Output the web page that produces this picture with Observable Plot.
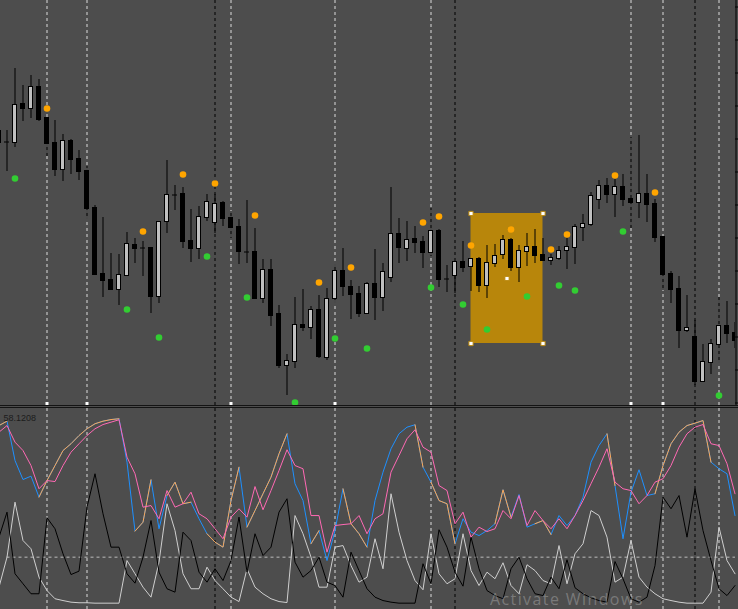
<!DOCTYPE html>
<html><head><meta charset="utf-8">
<script src="https://cdn.jsdelivr.net/npm/d3@7"></script>
<script src="https://cdn.jsdelivr.net/npm/@observablehq/plot@0.6"></script>
<style>
html,body{margin:0;padding:0;background:#4d4d4d;width:738px;height:609px;overflow:hidden;}
#chart{position:relative;width:738px;height:609px;}
#main{border-bottom:1px solid #141414;height:405px;}
#gap{height:1px;}
#lower{border-top:1px solid #141414;}
svg{display:block;}
.wm{position:absolute;left:490px;top:591px;font:16px/16px "Open Sans";letter-spacing:1.4px;color:rgba(255,255,255,0.26);white-space:nowrap;}
</style></head>
<body>
<div id="chart"><div id="main"></div><div id="gap"></div><div id="lower"></div><div class="wm">Activate Windows</div></div>
<script>
// bar index runs from -1 (partly cut at left) to 91
const open  = [290,279,278,317,312,334,303,278,251,280,262,250,213,147,141,131,145,176,173,173,124,199,226,227,180,172,203,198,218,203,194,169,169,122,151,107,55,59,96,93,111,63,122,150,134,127,107,137,123,143,187,172,182,179,168,190,142,145,159,154,162,135,157,166,181,153,169,174,166,160,162,170,173,193,196,221,235,226,234,222,218,227,217,184,147,132,90,84,39,58,76,95,88];
const high  = [292,290,352,335,345,341,303,300,286,281,270,254,215,203,167,166,188,182,179,173,199,260,235,233,211,214,226,226,219,209,201,220,192,161,161,115,66,123,131,114,125,132,156,172,140,134,138,171,157,233,202,199,194,184,212,191,155,159,179,162,163,175,176,185,182,175,187,191,182,166,174,182,196,206,228,240,242,241,246,283,285,246,221,184,149,144,125,100,76,81,123,119,98];
const low   = [275,249,273,299,302,299,264,244,239,246,240,201,145,123,131,115,144,157,144,107,117,187,210,172,158,161,199,187,194,182,156,157,122,117,94,52,25,52,89,81,62,60,117,124,101,103,107,100,109,138,157,159,167,152,164,133,128,127,148,129,128,122,153,161,149,138,154,157,159,155,160,151,156,179,194,211,217,203,214,192,202,198,178,130,117,72,88,35,38,46,57,77,72];
const close = [278,279,316,312,334,301,277,251,280,261,249,212,146,140,131,146,177,172,173,124,199,226,226,179,172,204,219,217,202,193,169,169,122,151,105,55,60,96,93,111,64,122,150,134,126,107,137,123,149,187,173,181,178,168,190,141,142,159,153,162,135,158,165,181,153,170,174,165,160,163,170,174,194,197,225,235,226,234,221,218,227,216,183,146,131,90,93,39,59,77,95,87,80];

// signal dots
const sellK = [5,17,22,26,31,39,43,52,54,58,63,68,70,76,81];
const sellP = [312,189,246,237,205,138,153,198,204,175,191,171,186,245,228];
const buyK  = [1,15,19,25,30,36,41,45,53,57,60,65,69,71,77,89];
const buyP  = [242,111,83,164,123,18,82,72,133,116,91,124,135,130,189,25];

// rectangle object
const zoneK = [58,67];
const zoneP = [77,207];

// vertical separators and markers
const whiteLines = [5,10,28,41,53,78,82,89];
const blackLines = [26,56,86];
const markerK = [5,10,28,41,78,82];
const priceTicks = [414,381,348,315,282,249,216,183,150,117,84,51,18];

// indicator window
const mainLine = [90.8,93.0,73.3,63.8,65.5,55.0,63.3,70.8,78.3,81.7,85.8,89.2,91.7,93.0,93.8,94.2,72.5,38.0,42.5,63.7,39.2,55.8,62.5,51.7,52.5,44.2,36.7,32.5,30.0,53.3,70.0,40.0,48.3,56.7,65.0,76.7,86.7,61.7,53.3,31.7,38.3,23.3,38.3,59.2,41.7,36.7,30.0,53.3,67.5,79.2,86.7,90.0,91.2,70.0,62.5,53.3,51.7,31.7,44.2,37.5,35.8,38.3,41.7,58.7,45.0,56.3,40.0,41.7,43.3,36.3,45.8,40.8,45.8,55.0,72.5,80.8,86.7,60.8,34.2,57.5,68.7,55.8,56.7,70.8,81.7,87.5,90.8,92.0,93.3,72.5,69.2,66.7,45.8];
const signalLine = [87.5,90.8,82.5,78.3,70.8,59.2,63.3,62.8,70.8,77.5,81.7,85.8,89.2,91.3,92.5,93.7,75.0,66.7,50.0,50.8,44.2,58.3,50.0,51.7,57.5,46.7,44.2,39.2,34.2,45.0,49.2,45.0,60.3,48.7,58.3,68.3,78.7,70.8,69.2,45.8,45.8,27.5,40.8,41.3,41.7,45.8,36.7,44.2,46.7,67.5,75.8,84.2,88.7,80.0,77.5,60.8,58.3,41.7,47.5,35.0,40.0,37.8,39.2,48.3,44.2,55.8,40.8,48.3,43.3,39.2,44.2,39.2,45.8,53.3,61.7,70.0,79.2,62.5,59.2,58.3,51.7,55.8,62.5,64.2,70.8,80.0,86.7,90.0,91.3,81.7,80.8,71.7,56.7];
const blackLine = [35.0,47.5,16.7,11.7,6.7,6.7,44.7,39.2,26.7,16.3,18.0,50.0,66.7,46.7,30.0,30.0,16.7,12.0,25.0,43.3,17.5,9.2,7.5,37.5,33.3,17.5,12.5,19.2,13.3,23.3,45.0,17.5,36.7,25.8,30.0,47.5,54.2,22.5,15.0,18.3,25.0,12.5,10.8,5.0,27.5,18.3,9.2,5.0,3.3,2.5,2.0,2.0,2.0,21.7,11.7,38.7,30.0,17.5,10.5,35.0,19.2,8.3,5.8,4.2,19.2,25.0,14.2,6.7,5.8,15.0,9.2,23.7,9.7,6.7,4.7,3.3,2.5,22.8,14.2,4.2,2.5,5.0,20.8,55.0,49.2,55.8,35.0,59.2,38.3,23.3,9.2,5.8,10.8];
const greyLine = [10.0,25.0,52.5,33.3,29.2,15.0,8.3,4.2,3.3,2.5,2.2,2.2,2.0,2.0,2.0,2.0,23.3,16.7,10.0,5.0,22.5,51.7,38.3,16.7,9.2,9.2,20.0,13.3,9.2,5.0,2.8,19.2,10.0,6.7,4.2,2.8,2.3,45.8,36.7,25.0,10.0,10.0,30.0,30.8,20.8,12.5,15.0,34.2,19.2,56.7,37.5,23.3,13.3,8.7,36.7,16.7,11.7,14.2,36.7,18.3,10.8,17.5,14.2,22.2,10.8,6.7,21.2,18.3,13.3,11.7,30.8,11.7,26.7,31.7,48.3,45.8,35.0,12.5,15.0,33.3,15.0,10.0,6.7,4.2,3.3,2.5,2.0,2.0,2.0,7.5,40.0,23.3,16.7];
const orangeRuns = [[-1,0],[4,14],[16,18],[20,23],[25,29],[30,35],[38,39],[42,45],[51,52],[53,56],[61,63],[66,68],[75,76],[81,88]];
const levels = [25];
const windowLabel = "58.1208";

// ---- build tables ----
const kIdx = d3.range(-1, 92);
const candles = kIdx.map((k, i) => ({k, o: open[i], h: high[i], l: low[i], c: close[i]}));
const bulls = candles.filter(d => d.c > d.o);
const bears = candles.filter(d => d.c < d.o);
const dojis = candles.filter(d => d.c === d.o);
const sells = sellK.map((k, i) => ({k, p: sellP[i]}));
const buys = buyK.map((k, i) => ({k, p: buyP[i]}));
const zone = {x1: zoneK[0], x2: zoneK[1], y1: zoneP[0], y2: zoneP[1]};
const handles = [
  {k: zoneK[0], p: zoneP[1]}, {k: zoneK[1], p: zoneP[1]},
  {k: zoneK[0], p: zoneP[0]}, {k: zoneK[1], p: zoneP[0]},
  {k: (zoneK[0] + zoneK[1]) / 2, p: (zoneP[0] + zoneP[1]) / 2}
];
const ind = kIdx.map((k, i) => ({k, m: mainLine[i], s: signalLine[i], b: blackLine[i], g: greyLine[i]}));
const orangeData = orangeRuns.flatMap(([a, b], r) => ind.filter(d => d.k >= a && d.k <= b).map(d => ({...d, run: r})));

const xDomain = [-0.8125, 91.0625];
const hw = 0.25;
const bg = "#4d4d4d";

const main = Plot.plot({
  width: 738, height: 405,
  marginTop: 0, marginBottom: 0, marginLeft: 0, marginRight: 3,
  x: {domain: xDomain, range: [0, 735], axis: null},
  y: {domain: [15, 420], axis: null},
  style: {background: bg, maxWidth: "none"},
  marks: [
    Plot.ruleX(whiteLines, {x: d => d, stroke: "#dcdcdc", strokeDasharray: "3,3"}),
    Plot.ruleX(blackLines, {x: d => d, stroke: "#000", strokeDasharray: "3,3"}),
    Plot.rect([zone], {x1: "x1", x2: "x2", y1: "y1", y2: "y2", fill: "#b8860b"}),
    Plot.ruleX(candles, {x: "k", y1: "l", y2: "h", stroke: "#000", clip: true}),
    Plot.rect(bears, {x1: d => d.k - hw, x2: d => d.k + hw, y1: "o", y2: "c", fill: "#000", stroke: "#000", shapeRendering: "crispEdges", clip: true}),
    Plot.rect(bulls, {x1: d => d.k - hw, x2: d => d.k + hw, y1: "o", y2: "c", fill: "#c0c0c0", stroke: "#000", shapeRendering: "crispEdges", clip: true}),
    Plot.ruleY(dojis, {y: "o", x1: d => d.k - 0.3125, x2: d => d.k + 0.3125, stroke: "#000", dy: 0.5}),
    Plot.dot(sells, {x: "k", y: "p", r: 3.3, fill: "#ffa500"}),
    Plot.dot(buys, {x: "k", y: "p", r: 3.3, fill: "#32cd32"}),
    Plot.dot(handles, {x: "k", y: "p", symbol: "square", r: 2.4, fill: "#ffffff", stroke: "#b8860b", strokeWidth: 1}),
    Plot.dot(markerK, {x: d => d, frameAnchor: "bottom", dy: -2, symbol: "square", r: 1.7, fill: "#ffffff"}),
    Plot.ruleX([xDomain[1]], {stroke: "#000", dx: 0.5}),
    Plot.ruleY(priceTicks, {y: d => d, x1: xDomain[1], x2: xDomain[1] + 0.375, stroke: "#000", dy: 0.5})
  ]
});

const lower = Plot.plot({
  width: 738, height: 202,
  marginTop: 0, marginBottom: 0, marginLeft: 0, marginRight: 3,
  x: {domain: xDomain, range: [0, 735], axis: null},
  y: {domain: [-1.67, 99.33], axis: null},
  style: {background: bg, maxWidth: "none"},
  marks: [
    Plot.ruleX(whiteLines, {x: d => d, stroke: "#dcdcdc", strokeDasharray: "3,3"}),
    Plot.ruleX(blackLines, {x: d => d, stroke: "#000", strokeDasharray: "3,3"}),
    Plot.ruleY(levels, {y: d => d, stroke: "#bdbdbd", strokeDasharray: "3,3", x2: xDomain[1]}),
    Plot.line(ind, {x: "k", y: "g", stroke: "#cfcfcf", strokeWidth: 1}),
    Plot.line(ind, {x: "k", y: "b", stroke: "#000", strokeWidth: 1}),
    Plot.line(ind, {x: "k", y: "m", stroke: "#1e90ff", strokeWidth: 1}),
    Plot.line(orangeData, {x: "k", y: "m", z: "run", stroke: "#ffa54f", strokeWidth: 1}),
    Plot.line(ind, {x: "k", y: "s", stroke: "#ff69b4", strokeWidth: 1}),
    Plot.text([windowLabel], {text: d => d, frameAnchor: "top-left", textAnchor: "start", lineAnchor: "top", dx: 3, dy: 6, fill: "#1c1c1c", fontSize: 9, fontFamily: "Liberation Sans, Arial, sans-serif"})
  ]
});

document.getElementById("main").appendChild(main);
document.getElementById("lower").appendChild(lower);
</script>
</body></html>
